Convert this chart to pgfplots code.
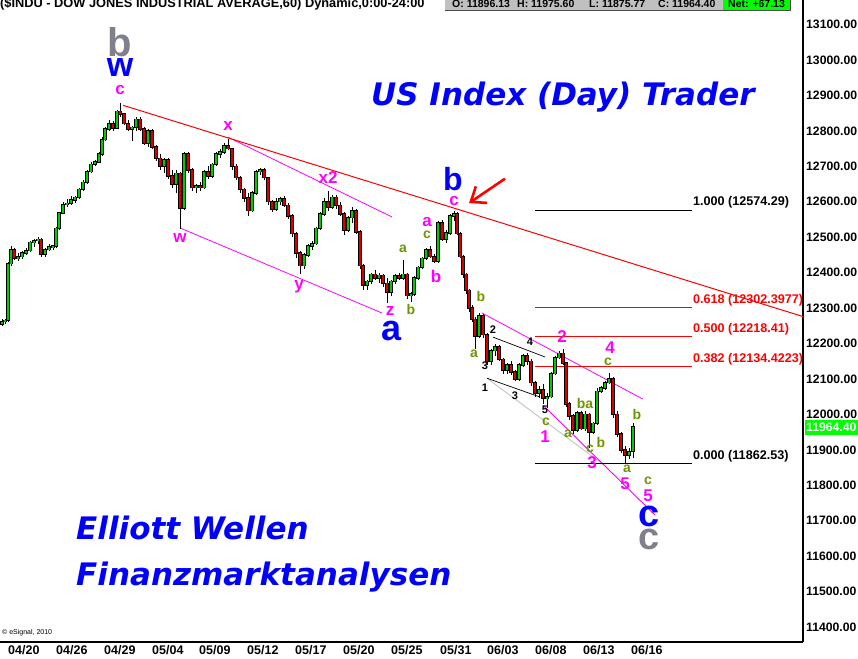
\documentclass[border=0pt]{standalone}
\usepackage{pgfplots}
\usepackage{pgfplotstable}
\pgfplotsset{compat=1.18}
\usepackage{fontspec}
\setmainfont{Liberation Sans}
\newfontfamily\vfont{DejaVu Sans}
\usetikzlibrary{arrows.meta}
\definecolor{upg}{RGB}{0,205,0}
\definecolor{dnr}{RGB}{215,0,0}
\definecolor{mag}{RGB}{255,0,255}
\definecolor{olv}{RGB}{110,150,0}
\definecolor{blu}{RGB}{0,0,255}
\definecolor{gry}{RGB}{128,128,140}
\definecolor{boxg}{RGB}{192,192,192}
\definecolor{netg}{RGB}{0,255,0}
\definecolor{lgry}{RGB}{190,190,190}

\pgfplotstableread{
x o h l c
2 12255 12270 12250 12262
5 12262 12270 12255 12265
8 12265 12430 12262 12425
11 12425 12475 12420 12465
14 12465 12470 12435 12440
18 12440 12455 12432 12445
22 12445 12462 12438 12455
26 12455 12470 12450 12462
30 12462 12490 12458 12485
34 12485 12495 12472 12490
38 12490 12500 12480 12494
41 12494 12498 12445 12452
45 12452 12470 12445 12465
49 12465 12480 12460 12472
53 12472 12478 12465 12475
56 12475 12530 12470 12525
59 12525 12572 12520 12568
63 12568 12600 12565 12592
67 12592 12607 12585 12595
71 12595 12615 12590 12605
75 12605 12615 12595 12612
79 12612 12640 12608 12635
83 12635 12662 12630 12655
87 12655 12690 12650 12685
91 12685 12712 12680 12705
95 12705 12718 12700 12712
99 12712 12740 12708 12735
102 12735 12782 12730 12775
105 12775 12810 12770 12805
109 12805 12830 12800 12820
113 12820 12828 12800 12808
117 12808 12860 12805 12855
120 12855 12878 12840 12848
124 12848 12850 12815 12820
128 12820 12830 12800 12805
132 12805 12815 12770 12810
136 12810 12838 12800 12832
140 12832 12838 12800 12805
144 12805 12810 12760 12765
148 12765 12805 12755 12800
152 12800 12805 12750 12755
156 12755 12760 12715 12722
160 12722 12735 12690 12700
164 12700 12722 12680 12718
168 12718 12722 12665 12672
172 12672 12690 12640 12650
176 12650 12690 12625 12680
180 12680 12685 12522 12582
184 12582 12740 12578 12735
188 12735 12740 12680 12690
192 12690 12695 12630 12640
196 12640 12650 12625 12645
200 12645 12655 12630 12640
204 12640 12690 12635 12685
208 12685 12700 12665 12672
212 12672 12710 12668 12705
216 12705 12740 12700 12735
220 12735 12748 12722 12740
224 12740 12765 12735 12758
228 12758 12776 12745 12750
232 12750 12752 12690 12700
236 12700 12705 12660 12668
240 12668 12672 12625 12635
244 12635 12640 12600 12610
248 12610 12625 12560 12575
252 12575 12630 12570 12625
256 12625 12690 12620 12685
260 12685 12695 12675 12690
264 12690 12695 12660 12668
268 12668 12670 12590 12600
272 12600 12605 12570 12580
276 12580 12610 12575 12600
280 12600 12612 12590 12608
284 12608 12615 12585 12590
288 12590 12595 12550 12560
292 12560 12565 12500 12510
296 12510 12515 12440 12455
300 12455 12460 12395 12420
304 12420 12455 12410 12450
308 12450 12480 12445 12475
312 12475 12490 12465 12482
316 12482 12530 12478 12525
320 12525 12570 12520 12565
324 12565 12610 12560 12600
328 12600 12630 12575 12585
332 12585 12620 12580 12612
336 12612 12618 12580 12590
340 12590 12598 12560 12565
344 12565 12570 12505 12520
348 12520 12560 12515 12555
352 12555 12585 12540 12575
356 12575 12580 12510 12515
360 12515 12520 12410 12420
363 12420 12425 12350 12365
367 12365 12380 12350 12375
371 12375 12400 12368 12395
375 12395 12408 12380 12385
379 12385 12400 12370 12392
383 12392 12395 12360 12370
387 12370 12385 12313 12345
391 12345 12380 12335 12375
395 12375 12395 12368 12390
399 12390 12400 12378 12385
403 12385 12437 12380 12395
407 12395 12398 12325 12335
411 12335 12345 12318 12340
414 12340 12390 12335 12385
418 12385 12420 12380 12415
422 12415 12445 12410 12440
426 12440 12470 12435 12465
430 12465 12475 12440 12445
434 12445 12452 12426 12432
438 12432 12545 12428 12540
442 12540 12548 12490 12495
446 12495 12520 12485 12512
450 12512 12565 12505 12560
454 12560 12575 12545 12565
457 12565 12570 12505 12510
460 12510 12515 12440 12445
463 12445 12450 12385 12395
466 12395 12400 12340 12350
469 12350 12355 12290 12300
472 12300 12310 12260 12268
475 12268 12275 12186 12220
479 12220 12285 12215 12278
483 12278 12283 12215 12225
487 12225 12230 12140 12150
491 12150 12185 12140 12180
495 12180 12200 12165 12190
499 12190 12195 12150 12155
503 12155 12160 12115 12125
507 12125 12145 12115 12140
511 12140 12150 12112 12120
515 12120 12125 12093 12100
519 12100 12145 12095 12140
523 12140 12170 12135 12165
527 12165 12172 12140 12150
531 12150 12155 12080 12090
535 12090 12095 12050 12060
539 12060 12080 12045 12070
543 12070 12085 12030 12045
547 12045 12060 12017 12050
551 12050 12120 12045 12115
555 12115 12165 12110 12160
559 12160 12180 12155 12172
563 12172 12185 12140 12145
566 12145 12148 12020 12030
569 12030 12035 11985 11995
573 11995 12000 11946 11955
577 11955 12010 11950 12005
581 12005 12010 11955 11960
585 11960 12010 11952 12000
589 12000 12005 11905 11950
593 11950 11980 11945 11975
597 11975 12075 11970 12065
601 12065 12080 12060 12075
605 12075 12095 12070 12090
609 12090 12116 12085 12100
613 12100 12105 11990 12000
617 12000 12010 11935 11945
621 11945 11950 11890 11900
625 11900 11910 11859 11885
629 11885 11905 11875 11895
633 11896 11976 11876 11964
}\candles

\newcommand{\lbl}[5]{\node[text=#3, font=\bfseries\fontsize{#4}{#4}\selectfont, inner sep=0pt] at (#1,#2) {#5};}

\begin{document}
\begin{tikzpicture}
\useasboundingbox (0,0) rectangle (858pt,658pt);
\begin{axis}[
  at={(0pt,16pt)}, anchor=south west,
  scale only axis, width=803pt, height=642pt,
  xmin=0, xmax=803, ymin=11358, ymax=13169,
  axis x line*=bottom, axis y line*=right,
  axis line style={line width=1.2pt, black},
  major tick length=0pt, tick style={draw=none},
  clip=false,
  xtick={8,56,104,152,199,247,295,343,391,440,487,535,583,631},
  xticklabels={04/20,04/26,04/29,05/04,05/09,05/12,05/17,05/20,05/25,05/31,06/03,06/08,06/13,06/16},
  xticklabel style={anchor=north west, inner sep=0pt, yshift=-3pt, font=\bfseries\fontsize{12.5}{14}\selectfont},
  ytick={11400,11500,11600,11700,11800,11900,12000,12100,12200,12300,12400,12500,12600,12700,12800,12900,13000,13100},
  yticklabels={11400.00,11500.00,11600.00,11700.00,11800.00,11900.00,12000.00,12100.00,12200.00,12300.00,12400.00,12500.00,12600.00,12700.00,12800.00,12900.00,13000.00,13100.00},
  yticklabel style={anchor=west, inner sep=0pt, xshift=3pt, font=\bfseries\fontsize{12.2}{14}\selectfont},
]
% annotation lines
\addplot[mag, line width=0.8pt, forget plot] coordinates {(228,12782) (392,12557)};
\addplot[mag, line width=0.8pt, forget plot] coordinates {(180,12526) (382,12286)};
\addplot[mag, line width=0.8pt, forget plot] coordinates {(482,12286) (643,12043)};
\addplot[lgry, line width=0.8pt, forget plot] coordinates {(487,12102) (607,11851)};
\addplot[mag, line width=0.9pt, forget plot] coordinates {(543,12026) (655,11716)};
\addplot[black, line width=0.7pt, forget plot] coordinates {(493,12218) (545,12162)};
\addplot[black, line width=0.7pt, forget plot] coordinates {(487,12102) (540,12049)};
% fib lines
\addplot[black, line width=1pt, forget plot] coordinates {(535,12574.29) (692,12574.29)};
\addplot[red, line width=1pt, forget plot] coordinates {(535,12302.3977) (692,12302.3977)};
\addplot[red, line width=1pt, forget plot] coordinates {(535,12218.41) (692,12218.41)};
\addplot[red, line width=1pt, forget plot] coordinates {(535,12134.4223) (692,12134.4223)};
\addplot[black, line width=1pt, forget plot] coordinates {(535,11862.53) (692,11862.53)};
% candles: wicks
\addplot[draw=none, mark=none, forget plot, error bars/.cd, y dir=both, y explicit, error mark=none,
  error bar style={draw=black, line width=1pt}]
  table[x=x, y expr={(\thisrow{h}+\thisrow{l})/2}, y error expr={(\thisrow{h}-\thisrow{l})/2}] {\candles};
% body outline
\addplot[draw=none, mark=none, forget plot, error bars/.cd, y dir=both, y explicit, error mark=none,
  error bar style={draw=black, line width=3.8pt}]
  table[x=x, y expr={(\thisrow{o}+\thisrow{c})/2}, y error expr={abs(\thisrow{c}-\thisrow{o})/2+2}] {\candles};
% up bodies
\addplot[draw=none, mark=none, forget plot, error bars/.cd, y dir=both, y explicit, error mark=none,
  error bar style={draw=upg, line width=1.9pt}]
  table[x=x, y expr={\thisrow{o}+max(\thisrow{c}-\thisrow{o},0)/2}, y error expr={max(\thisrow{c}-\thisrow{o},0)/2}] {\candles};
% down bodies
\addplot[draw=none, mark=none, forget plot, error bars/.cd, y dir=both, y explicit, error mark=none,
  error bar style={draw=dnr, line width=1.9pt}]
  table[x=x, y expr={\thisrow{c}+max(\thisrow{o}-\thisrow{c},0)/2}, y error expr={max(\thisrow{o}-\thisrow{c},0)/2}] {\candles};
% red trend line and arrow
\addplot[red, line width=1pt, forget plot] coordinates {(123,12872) (803,12276)};
\addplot[red, line width=2.6pt, forget plot, -{Straight Barb[length=13pt,width=20pt]}] coordinates {(505,12665) (469,12596)};
\end{axis}

\begin{scope}[yshift=658pt, x=1pt, y=-1pt]
% header
\node[anchor=base west, inner sep=0pt, font=\bfseries\fontsize{12.8}{14}\selectfont] at (0,8) {(\$INDU - DOW JONES INDUSTRIAL AVERAGE,60) Dynamic,0:00-24:00};
\fill[boxg] (445,-6) rectangle (723,10);
\fill[netg] (723,-6) rectangle (790,10);
\draw[black!70, line width=0.8pt] (445,10) -- (790,10) -- (790,-6);
\node[anchor=base west, inner sep=0pt, font=\bfseries\fontsize{10.5}{12}\selectfont] at (452,7.5) {O: 11896.13};
\node[anchor=base west, inner sep=0pt, font=\bfseries\fontsize{10.5}{12}\selectfont] at (517,7.5) {H: 11975.60};
\node[anchor=base west, inner sep=0pt, font=\bfseries\fontsize{10.5}{12}\selectfont] at (589,7.5) {L: 11875.77};
\node[anchor=base west, inner sep=0pt, font=\bfseries\fontsize{10.5}{12}\selectfont] at (658,7.5) {C: 11964.40};
\node[anchor=base west, inner sep=0pt, font=\bfseries\fontsize{10.5}{12}\selectfont] at (728,7.5) {Net: +67.13};
% price box
\fill[netg] (805,420) rectangle (858,435);
\node[anchor=west, inner sep=0pt, text=white, font=\bfseries\fontsize{12.2}{14}\selectfont] at (806,427.5) {11964.40};
% copyright
\node[anchor=west, inner sep=0pt, font=\fontsize{7}{8}\selectfont] at (2,633) {\textcopyright{} eSignal, 2010};
% titles
\node[anchor=base west, inner sep=0pt, text=blu, font=\vfont\bfseries\itshape\fontsize{31}{34}\selectfont] at (371,106) {US Index (Day) Trader};
\node[anchor=base west, inner sep=0pt, text=blu, font=\vfont\bfseries\itshape\fontsize{31}{34}\selectfont] at (76,540) {Elliott Wellen};
\node[anchor=base west, inner sep=0pt, text=blu, font=\vfont\bfseries\itshape\fontsize{31}{34}\selectfont] at (76,585) {Finanzmarktanalysen};
% fib labels
\node[anchor=west, inner sep=0pt, font=\bfseries\fontsize{12.6}{14}\selectfont] at (693,202) {1.000 (12574.29)};
\node[anchor=west, inner sep=0pt, text=red, font=\bfseries\fontsize{12.6}{14}\selectfont] at (693,300) {0.618 (12302.3977)};
\node[anchor=west, inner sep=0pt, text=red, font=\bfseries\fontsize{12.6}{14}\selectfont] at (693,329) {0.500 (12218.41)};
\node[anchor=west, inner sep=0pt, text=red, font=\bfseries\fontsize{12.6}{14}\selectfont] at (693,359) {0.382 (12134.4223)};
\node[anchor=west, inner sep=0pt, font=\bfseries\fontsize{12.6}{14}\selectfont] at (693,456) {0.000 (11862.53)};
% big wave labels
\lbl{120}{42}{gry}{40}{b}
\lbl{120}{68}{blu}{34}{w}
\lbl{392}{331}{blu}{36}{a}
\lbl{453}{179}{blu}{32}{b}
\lbl{649}{516}{blu}{38}{c}
\lbl{649}{539}{gry}{38}{c}
% magenta labels
\lbl{120}{90}{mag}{17}{c}
\lbl{228}{126}{mag}{17}{x}
\lbl{180}{238}{mag}{17}{w}
\lbl{328}{178}{mag}{17}{x2}
\lbl{299}{287}{mag}{17}{y}
\lbl{390}{311}{mag}{17}{z}
\lbl{427}{222}{mag}{17}{a}
\lbl{436}{276}{mag}{17}{b}
\lbl{454}{201}{mag}{17}{c}
\lbl{545}{437}{mag}{17}{1}
\lbl{562}{337}{mag}{17}{2}
\lbl{592}{463}{mag}{17}{3}
\lbl{610}{348}{mag}{17}{4}
\lbl{625}{484}{mag}{17}{5}
\lbl{648}{496}{mag}{17}{5}
% olive labels
\lbl{403}{249}{olv}{14}{a}
\lbl{411}{310}{olv}{14}{b}
\lbl{427}{235}{olv}{14}{c}
\lbl{481}{297}{olv}{14}{b}
\lbl{474}{354}{olv}{14}{a}
\lbl{546}{422}{olv}{14}{c}
\lbl{568}{434}{olv}{14}{a}
\lbl{585}{403}{olv}{14}{ba}
\lbl{590}{449}{olv}{14}{c}
\lbl{601}{442}{olv}{14}{b}
\lbl{608}{362}{olv}{14}{c}
\lbl{637}{414}{olv}{14}{b}
\lbl{627}{469}{olv}{14}{a}
\lbl{648}{481}{olv}{14}{c}
% small black labels
\lbl{493}{330}{black}{11}{2}
\lbl{485}{366}{black}{11}{3}
\lbl{485}{388}{black}{11}{1}
\lbl{515}{396}{black}{11}{3}
\lbl{530}{342}{black}{11}{4}
\lbl{545}{410}{black}{11}{5}
\end{scope}
\end{tikzpicture}
\end{document}
